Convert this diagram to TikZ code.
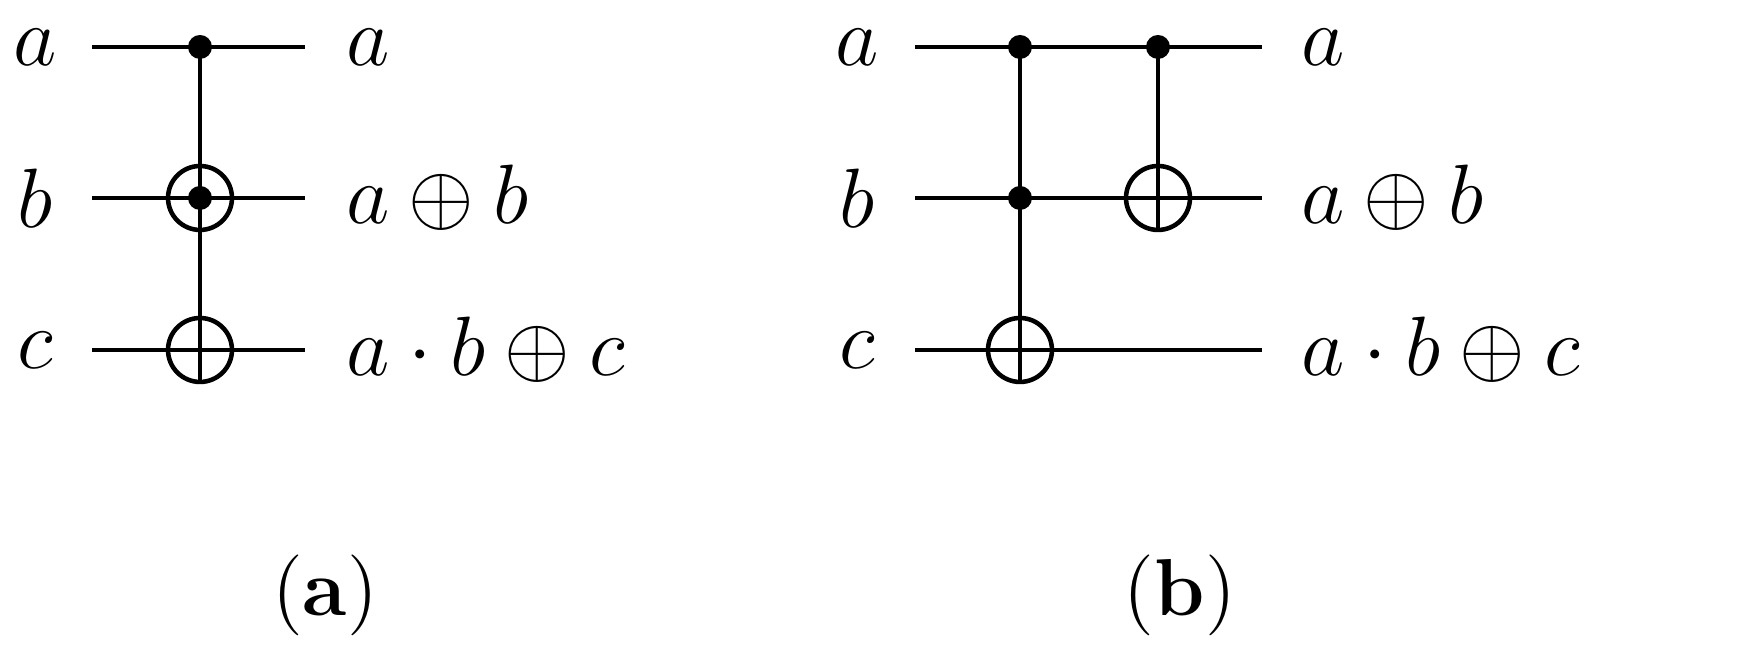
\documentclass[tikz,border=0pt]{standalone}
\begin{document}
\begin{tikzpicture}[x=0.005cm,y=-0.005cm,line width=0.5pt,
  dot/.style={circle,fill=black,inner sep=0pt,minimum size=0.12cm},
  oplus/.style={circle,draw,line width=0.65pt,inner sep=0pt,minimum size=0.32cm},
  lbl/.style={font=\fontsize{11.5}{14}\selectfont,inner sep=0pt}]
\useasboundingbox (0,0) rectangle (1738,652);
% (a)
\foreach \n/\y in {a/47,b/198,c/350}{
  \coordinate (al\n) at (92,\y); \coordinate (ar\n) at (305,\y);
  \draw (al\n) -- (ar\n);}
\node[lbl,anchor=center] (aia) at (35,47) {$a$};
\node[lbl] (aib) at (35,198) {$b$};
\node[lbl] (aic) at (35,350) {$c$};
\node[lbl,anchor=west] (aoa) at (345,47) {$a$};
\node[lbl,anchor=west] (aob) at (345,198) {$a\oplus b$};
\node[lbl,anchor=west] (aoc) at (345,350) {$a\cdot b\oplus c$};
\node[dot] (ad1) at (200,47) {};
\node[oplus] (ar2) at (200,198) {};
\node[dot] (ad2) at (200,198) {};
\node[oplus] (ax) at (200,350) {};
\draw (ad1.center) -- (ax.south);
\draw (ax.west) -- (ax.east);
\node[lbl] (cap1) at (325,595) {(\textbf{a})};
% (b)
\foreach \n/\y in {a/47,b/198,c/350}{
  \coordinate (bl\n) at (915,\y); \coordinate (br\n) at (1262,\y);
  \draw (bl\n) -- (br\n);}
\node[lbl] (bia) at (857,47) {$a$};
\node[lbl] (bib) at (857,198) {$b$};
\node[lbl] (bic) at (857,350) {$c$};
\node[lbl,anchor=west] (boa) at (1300,47) {$a$};
\node[lbl,anchor=west] (bob) at (1300,198) {$a\oplus b$};
\node[lbl,anchor=west] (boc) at (1300,350) {$a\cdot b\oplus c$};
\node[dot] (b1) at (1020,47) {};
\node[dot] (b2) at (1020,198) {};
\node[oplus] (bx1) at (1020,350) {};
\draw (b1.center) -- (bx1.south);
\draw (bx1.west) -- (bx1.east);
\node[dot] (b3) at (1158,47) {};
\node[oplus] (bx2) at (1158,198) {};
\draw (b3.center) -- (bx2.south);
\draw (bx2.west) -- (bx2.east);
\node[lbl] (cap2) at (1180,595) {(\textbf{b})};
\end{tikzpicture}
\end{document}
